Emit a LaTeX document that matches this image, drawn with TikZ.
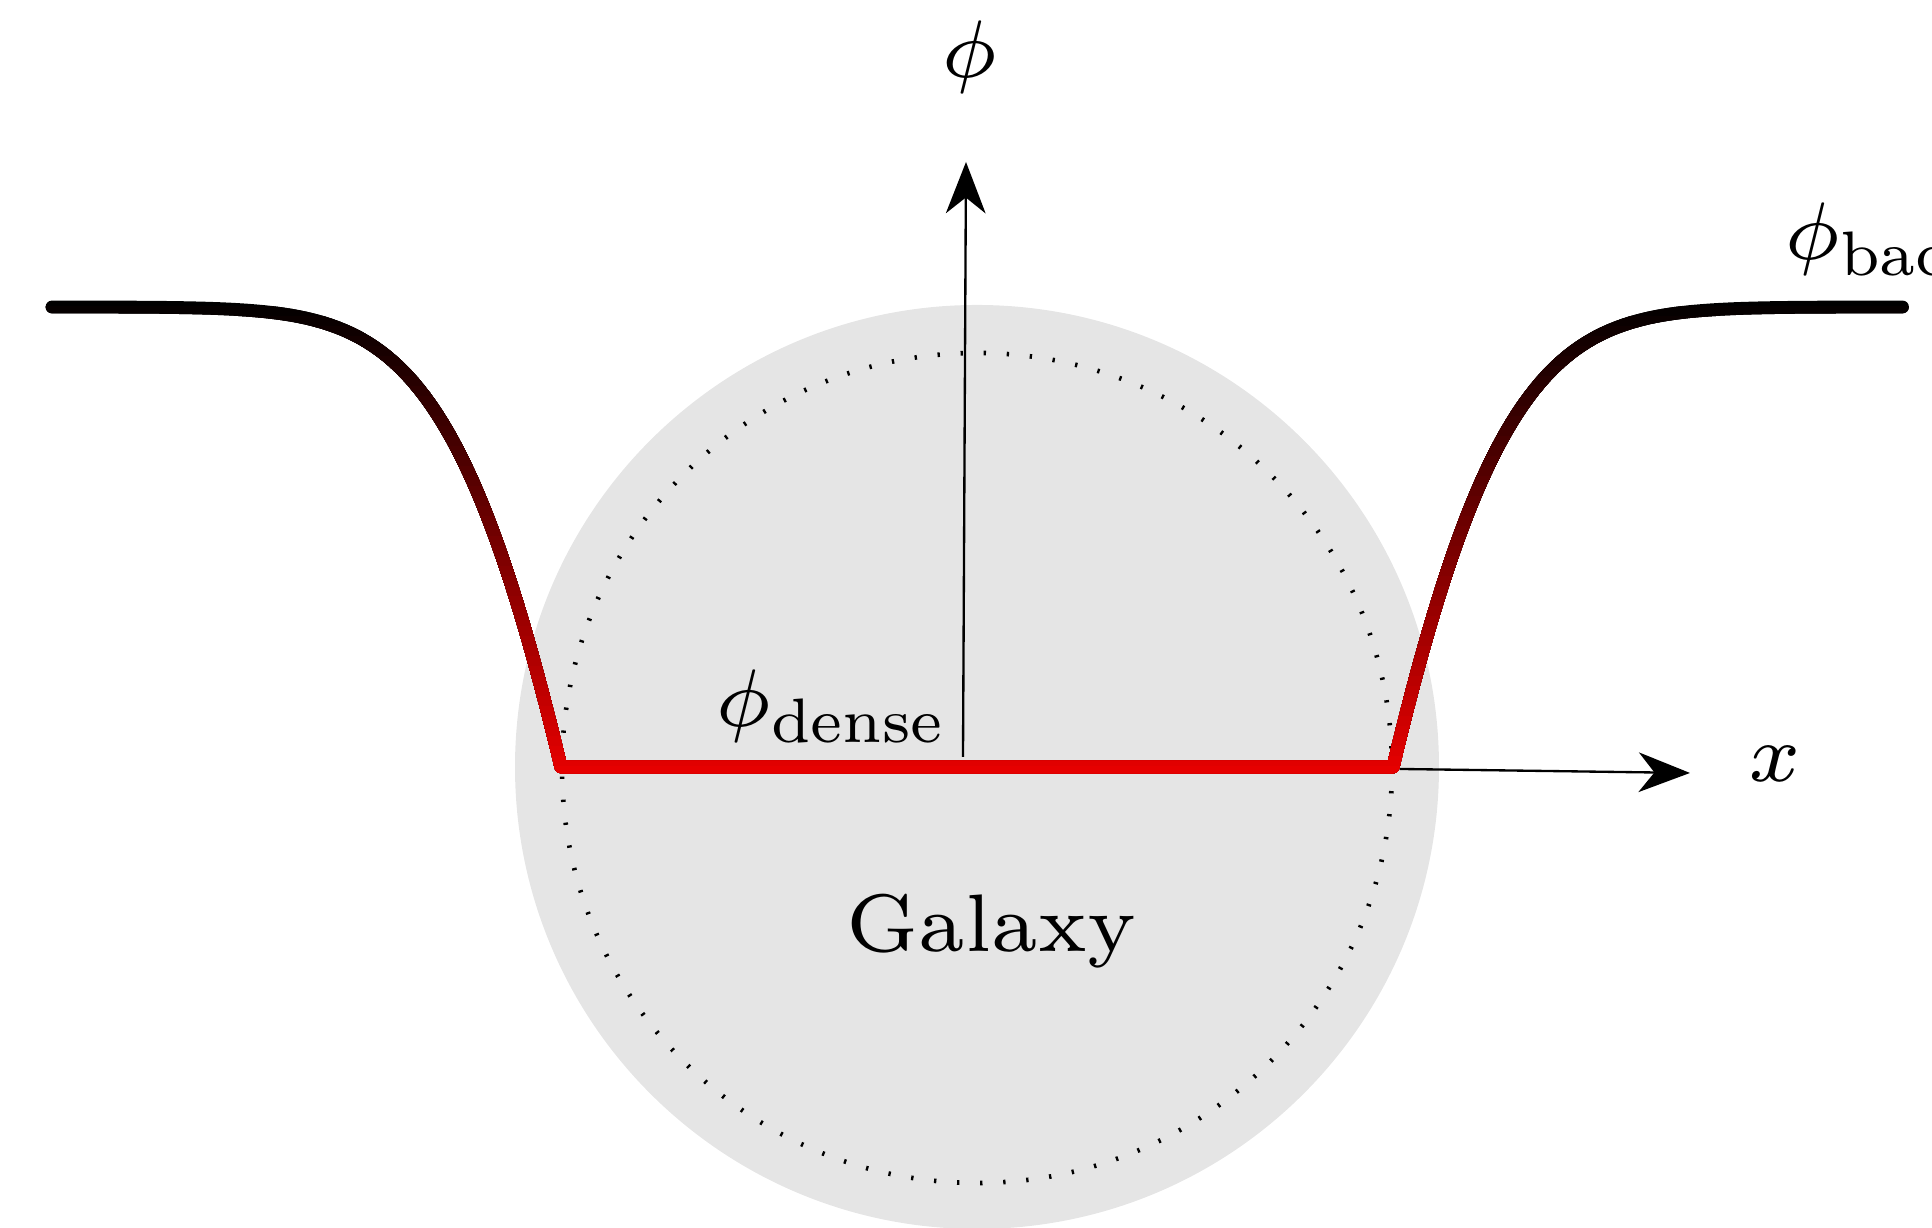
\documentclass[tikz,border=0pt]{standalone}
\usepackage{graphicx}
\usetikzlibrary{arrows.meta}
\definecolor{myred}{RGB}{230,0,0}
\definecolor{diskgray}{RGB}{229,229,229}
\newcommand\subtxt[1]{\scalebox{0.77}{\hbox{\scriptsize #1}}}
\begin{document}
\begin{tikzpicture}[x=0.08576pt,y=-0.08576pt,
  lab/.style={font=\scriptsize, inner sep=0pt, outer sep=0pt},
  axisline/.style={line width=0.2pt, -{Stealth[length=4.4pt,width=3.4pt,inset=1.35pt]}},
  curve/.style={line width=1.1pt, line join=round, line cap=round},
  dotcircle/.style={line width=0.4pt, dash pattern=on 0.2pt off 1.78pt}]
\useasboundingbox (0,0) rectangle (1932,1228);
\clip (0,0) rectangle (1932,1228);
\fill[diskgray] (977,767) circle[radius=462];
\draw[dotcircle] (977,768) circle[radius=415];
\def\potential{plot[domain=1:0, samples=90, variable=\t] ({561-509*\t*\t}, {307+460*exp(-0.0091*509*\t*\t-0.215*(5.09*\t*\t)^2)}) -- plot[domain=0:1, samples=90, variable=\t] ({1393+510*\t*\t}, {307+460*exp(-0.0091*510*\t*\t-0.215*(5.10*\t*\t)^2)})}
\foreach \i in {0,...,47} {
  \pgfmathsetmacro\yy{297+10*\i}
  \pgfmathsetmacro\pc{100*\i/47}
  \begin{scope}
    \clip (0,\yy) rectangle (1932,1228);
    \draw[curve, myred!\pc!black] \potential;
  \end{scope}
}
\coordinate (ybot) at (963,757);
\coordinate (ytop) at (966,162);
\coordinate (xstart) at (1400,769);
\coordinate (xtip) at (1690,773);
\draw[axisline] (ybot) -- (ytop);
\draw[axisline] (xstart) -- (xtip);
\node[lab] (phiax) at (970,57) {$\phi$};
\node[lab] (xlab) at (1775,764) {$x$};
\node[lab, anchor=base west] (phidense) at (715,727) {$\phi_{\subtxt{dense}}$};
\node[lab, anchor=base west] (phibg) at (1784,260) {$\phi_{\subtxt{background}}$};
\node[lab, anchor=base] (galaxy) at (991.5,952) {Galaxy};
\end{tikzpicture}
\end{document}
